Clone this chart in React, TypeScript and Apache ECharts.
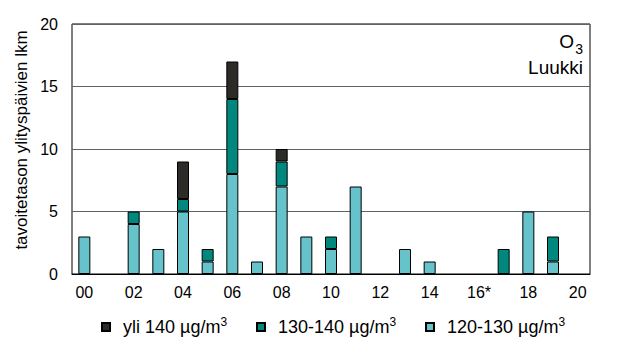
import React, { useEffect, useRef } from "react";
import * as echarts from "echarts";

const categories = ["00", "01", "02", "03", "04", "05", "06", "07", "08", "09", "10", "11", "12", "13", "14", "15", "16*", "17", "18", "19", "20"];
const light120_130 = [3, 0, 4, 2, 5, 1, 8, 1, 7, 3, 2, 7, 0, 2, 1, 0, 0, 0, 5, 1, 0];
const mid130_140 = [0, 0, 1, 0, 1, 1, 6, 0, 2, 0, 1, 0, 0, 0, 0, 0, 0, 2, 0, 2, 0];
const darkOver140 = [0, 0, 0, 0, 3, 0, 3, 0, 1, 0, 0, 0, 0, 0, 0, 0, 0, 0, 0, 0, 0];
const seriesNames = ["yli 140 µg/m", "130-140 µg/m", "120-130 µg/m"];
const yTicks = { min: 0, max: 20, interval: 5 };

const FONT = "'Liberation Sans', Arial, sans-serif";

export default function App() {
  const ref = useRef<HTMLDivElement>(null);
  useEffect(() => {
    if (!ref.current) return;
    const chart = echarts.init(ref.current, null, { renderer: "svg" });
    const nz = (a: number[]) => a.map((v) => (v === 0 ? null : v));
    const barBase = {
      type: "bar",
      stack: "total",
      barWidth: 12,
      itemStyle: { borderColor: "#000", borderWidth: 1 },
    };
    const legendBase = {
      top: 311,
      itemWidth: 8,
      itemHeight: 8,
      icon: "rect",
      formatter: (name: string) => `{b|${name}}{s|3}`,
      textStyle: {
        color: "#000",
        fontSize: 18,
        fontFamily: FONT,
        padding: [0, 0, 0, 8],
        rich: {
          b: { fontSize: 18, fontFamily: FONT, color: "#000", lineHeight: 22 },
          s: { fontSize: 12, fontFamily: FONT, color: "#000", verticalAlign: "top", lineHeight: 22, padding: [0, 0, 8, 0] },
        },
      },
    };
    chart.setOption({
      animation: false,
      textStyle: { fontFamily: FONT },
      grid: { left: 72, right: 31, top: 24, bottom: 80, show: true, borderColor: "#000", borderWidth: 1, backgroundColor: "transparent" },
      xAxis: {
        type: "category",
        data: categories,
        axisLine: { lineStyle: { color: "#000" } },
        axisTick: { show: false },
        axisLabel: { interval: 1, color: "#000", fontSize: 16, fontFamily: FONT, margin: 10 },
      },
      yAxis: {
        type: "value",
        min: yTicks.min,
        max: yTicks.max,
        interval: yTicks.interval,
        axisLine: { show: false },
        axisTick: { show: false },
        axisLabel: { color: "#000", fontSize: 16, fontFamily: FONT, margin: 14 },
        splitLine: { lineStyle: { color: "#5a656b", width: 1 } },
      },
      legend: [
        { ...legendBase, data: [seriesNames[0]], left: 96 },
        { ...legendBase, data: [seriesNames[1]], left: 251 },
        { ...legendBase, data: [seriesNames[2]], left: 420 },
      ],
      graphic: [
        {
          type: "text",
          x: 21,
          y: 140,
          rotation: Math.PI / 2,
          style: { text: "tavoitetason ylityspäivien lkm", font: `17px ${FONT}`, fill: "#000", align: "center", verticalAlign: "middle" },
        },
        { type: "text", right: 47, top: 32, style: { text: "O", font: `19px ${FONT}`, fill: "#000" } },
        { type: "text", right: 38, top: 42, style: { text: "3", font: `14px ${FONT}`, fill: "#000" } },
        { type: "text", right: 38, top: 58, style: { text: "Luukki", font: `19px ${FONT}`, fill: "#000" } },
      ],
      series: [
        { ...barBase, name: seriesNames[2], data: nz(light120_130), itemStyle: { ...barBase.itemStyle, color: "#66c3cc" } },
        { ...barBase, name: seriesNames[1], data: nz(mid130_140), itemStyle: { ...barBase.itemStyle, color: "#00887f" } },
        { ...barBase, name: seriesNames[0], data: nz(darkOver140), itemStyle: { ...barBase.itemStyle, color: "#2d2b28" } },
      ],
    });
    return () => chart.dispose();
  }, []);
  return <div ref={ref} style={{ width: 621, height: 354, position: "absolute", left: 0, top: 0 }} />;
}
